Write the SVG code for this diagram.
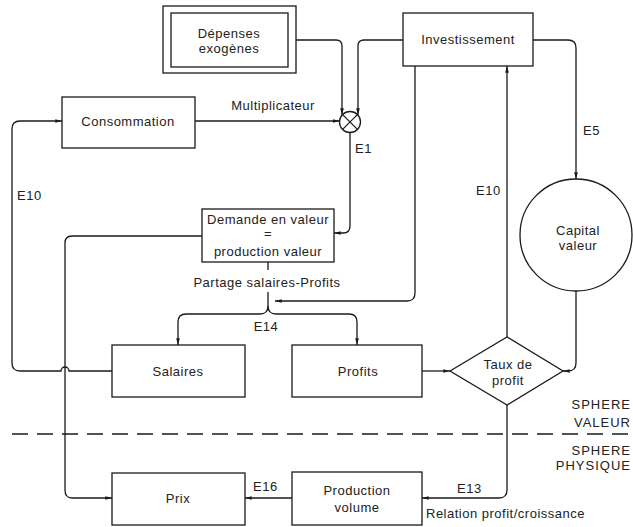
<svg xmlns="http://www.w3.org/2000/svg" width="633" height="527" viewBox="0 0 633 527">
  <style>
    .box { fill: #fff; stroke: #1a1a1a; stroke-width: 1.3; }
    .wire { fill: none; stroke: #1a1a1a; stroke-width: 1.3; }
    .arr { marker-end: url(#tip); }
    text { font-family: "Liberation Sans", Arial, sans-serif; font-size: 13px; fill: #222; letter-spacing: 0.5px; }
    .c { text-anchor: middle; }
    .r { text-anchor: end; letter-spacing: 1px; }
  </style>
  <defs>
    <marker id="tip" viewBox="0 0 8 6" refX="8" refY="3" markerWidth="7" markerHeight="5" markerUnits="userSpaceOnUse" orient="auto">
      <path d="M0,0.8 L8,3 L0,5.2 z" fill="#1a1a1a"/>
    </marker>
  </defs>
  <rect width="633" height="527" fill="#fff"/>

  <!-- connectors -->
  <g id="connectors">
    <path class="wire arr" d="M296,40 H336 Q342,40 342,46 V115"/>
    <path class="wire arr" d="M403,40 H364 Q358,40 358,46 V115"/>
    <path class="wire arr" d="M195,121 H339.5"/>
    <path class="wire arr" d="M350,132.5 V226 Q350,233 343,233 H334"/>
    <path class="wire arr" d="M202,236 H72 Q65,236 65,243 V490 Q65,498 72,498 H112"/>
    <path class="wire arr" d="M112,371 H69 A4,4 0 0 0 61,371 H20 Q12,371 12,363 V129 Q12,121 20,121 H62"/>
    <path class="wire arr" d="M415,66 V293 Q415,301 407,301 H275"/>
    <path class="wire" d="M268,262 V270"/>
    <path class="wire arr" d="M268,292 V306 Q268,314 260,314 H186 Q178,314 178,322 V345"/>
    <path class="wire arr" d="M268,306 Q268,314 276,314 H349 Q357,314 357,322 V345"/>
    <path class="wire arr" d="M422,371 H450"/>
    <path class="wire arr" d="M533,40 H568 Q576,40 576,48 V179"/>
    <path class="wire arr" d="M576,291 V363 Q576,371 568,371 H563"/>
    <path class="wire arr" d="M507,337 V66"/>
    <path class="wire arr" d="M507,405 V490 Q507,498 499,498 H422"/>
    <path class="wire arr" d="M292,498 H245"/>
    <line x1="12" y1="434" x2="633" y2="434" stroke="#1a1a1a" stroke-width="1.3" stroke-dasharray="16 9"/>
  </g>

  <!-- nodes -->
  <g id="depenses">
    <rect class="box" x="163" y="6" width="133" height="67"/>
    <rect class="box" x="171" y="13" width="117" height="54"/>
    <text class="c" x="229" y="38">Dépenses</text>
    <text class="c" x="229" y="53">exogènes</text>
  </g>
  <g id="investissement">
    <rect class="box" x="403" y="13" width="130" height="53"/>
    <text class="c" x="468" y="44">Investissement</text>
  </g>
  <g id="consommation">
    <rect class="box" x="62" y="97" width="133" height="51"/>
    <text class="c" x="128" y="126">Consommation</text>
  </g>
  <g id="multiplicateur">
    <circle class="box" cx="350" cy="122" r="10.5"/>
    <path class="wire" d="M342.6,114.6 L357.4,129.4 M357.4,114.6 L342.6,129.4"/>
  </g>
  <g id="demande">
    <rect class="box" x="202" y="209" width="132" height="53"/>
    <text class="c" x="268" y="224">Demande en valeur</text>
    <text class="c" x="268" y="238">=</text>
    <text class="c" x="268" y="256">production valeur</text>
  </g>
  <g id="capital">
    <circle class="box" cx="576" cy="235" r="56"/>
    <text class="c" x="578" y="235">Capital</text>
    <text class="c" x="578" y="250">valeur</text>
  </g>
  <g id="salaires">
    <rect class="box" x="112" y="345" width="133" height="52"/>
    <text class="c" x="178" y="376">Salaires</text>
  </g>
  <g id="profits">
    <rect class="box" x="292" y="345" width="130" height="52"/>
    <text class="c" x="358" y="376">Profits</text>
  </g>
  <g id="taux">
    <path class="box" d="M450,371 L507,337 L563,371 L507,405 z"/>
    <text class="c" x="508" y="369">Taux de</text>
    <text class="c" x="508" y="385">profit</text>
  </g>
  <g id="production">
    <rect class="box" x="292" y="472" width="130" height="53"/>
    <text class="c" x="357" y="495">Production</text>
    <text class="c" x="357" y="512">volume</text>
  </g>
  <g id="prix">
    <rect class="box" x="112" y="473" width="133" height="52"/>
    <text class="c" x="178" y="503">Prix</text>
  </g>

  <!-- labels -->
  <g id="labels">
    <text class="c" x="273" y="110">Multiplicateur</text>
    <text x="355" y="153">E1</text>
    <text x="17" y="200">E10</text>
    <text x="476" y="195">E10</text>
    <text x="583" y="135">E5</text>
    <text class="c" x="267" y="287">Partage salaires-Profits</text>
    <text class="c" x="266" y="331">E14</text>
    <text x="253" y="491">E16</text>
    <text x="457" y="493">E13</text>
    <text x="426" y="518">Relation profit/croissance</text>
    <text class="r" x="631" y="409">SPHERE</text>
    <text class="r" x="631" y="427">VALEUR</text>
    <text class="r" x="631" y="455">SPHERE</text>
    <text class="r" x="631" y="470">PHYSIQUE</text>
  </g>
</svg>
